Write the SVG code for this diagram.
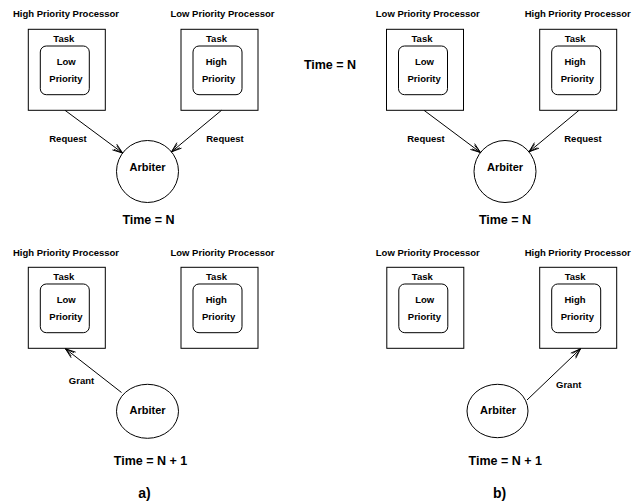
<svg xmlns="http://www.w3.org/2000/svg" width="637" height="504" viewBox="0 0 637 504">
<style>
text{font-family:"Liberation Sans",Arial,sans-serif;font-weight:bold;fill:#000}
.s{font-size:9.5px}
.m{font-size:11px}
.l{font-size:12.5px}
.xl{font-size:14px}
.c{text-anchor:middle}
.box{fill:#fff;stroke:#000;stroke-width:1}
.in{fill:#fff;stroke:#000;stroke-width:1}
.arb{fill:#fff;stroke:#000;stroke-width:1}
.e{stroke:#000;stroke-width:1;fill:none}
</style>
<defs>
<marker id="ah" markerUnits="userSpaceOnUse" markerWidth="14" markerHeight="10" viewBox="-12 -5 14 10" refX="0" refY="0" orient="auto">
<path d="M-10,-3.6 L0,0 L-10,3.6 M-9,-2.2 L0,0 L-9,2.2" fill="none" stroke="#000" stroke-width="0.9"/>
</marker>
</defs>

<!-- Panel a) top -->
<g id="a-top-hp">
<text class="s c" x="66" y="17">High Priority Processor</text>
<g transform="translate(28.3,29.3)">
<rect class="box" x="0" y="0" width="77" height="81"/>
<text class="s" x="25" y="12.3">Task</text>
<rect class="in" x="12" y="16.7" width="49" height="48.7" rx="6"/>
<text class="s" x="28.4" y="35.7">Low</text>
<text class="s" x="21" y="53">Priority</text>
</g>
</g>
<g id="a-top-lp">
<text class="s c" x="222.5" y="17">Low Priority Processor</text>
<g transform="translate(181,29.3)">
<rect class="box" x="0" y="0" width="77" height="81"/>
<text class="s" x="25" y="12.3">Task</text>
<rect class="in" x="12" y="16.7" width="49" height="48.7" rx="6"/>
<text class="s" x="24.7" y="35.7">High</text>
<text class="s" x="21" y="53">Priority</text>
</g>
</g>
<g id="a-top-arbiter">
<circle class="arb" cx="147.5" cy="171.5" r="31"/>
<text class="m c" x="147.5" y="171">Arbiter</text>
</g>
<text class="l c" x="148.5" y="224">Time = N</text>

<!-- Panel b) top -->
<text class="l c" x="330" y="69">Time = N</text>
<g id="b-top-lp">
<text class="s c" x="427.8" y="17">Low Priority Processor</text>
<g transform="translate(386.5,29.3)">
<rect class="box" x="0" y="0" width="77" height="81"/>
<text class="s" x="25" y="12.3">Task</text>
<rect class="in" x="12" y="16.7" width="49" height="48.7" rx="6"/>
<text class="s" x="28.4" y="35.7">Low</text>
<text class="s" x="21" y="53">Priority</text>
</g>
</g>
<g id="b-top-hp">
<text class="s c" x="577.7" y="17">High Priority Processor</text>
<g transform="translate(539.7,29.3)">
<rect class="box" x="0" y="0" width="77" height="81"/>
<text class="s" x="25" y="12.3">Task</text>
<rect class="in" x="12" y="16.7" width="49" height="48.7" rx="6"/>
<text class="s" x="24.7" y="35.7">High</text>
<text class="s" x="21" y="53">Priority</text>
</g>
</g>
<g id="b-top-arbiter">
<circle class="arb" cx="505" cy="171.5" r="31"/>
<text class="m c" x="505" y="171">Arbiter</text>
</g>
<text class="l c" x="505" y="224">Time = N</text>

<!-- Panel a) bottom -->
<g id="a-bot-hp">
<text class="s c" x="66" y="256">High Priority Processor</text>
<g transform="translate(28.3,267.3)">
<rect class="box" x="0" y="0" width="77" height="81"/>
<text class="s" x="25" y="12.3">Task</text>
<rect class="in" x="12" y="16.7" width="49" height="48.7" rx="6"/>
<text class="s" x="28.4" y="35.7">Low</text>
<text class="s" x="21" y="53">Priority</text>
</g>
</g>
<g id="a-bot-lp">
<text class="s c" x="222.5" y="256">Low Priority Processor</text>
<g transform="translate(181,267.3)">
<rect class="box" x="0" y="0" width="77" height="81"/>
<text class="s" x="25" y="12.3">Task</text>
<rect class="in" x="12" y="16.7" width="49" height="48.7" rx="6"/>
<text class="s" x="24.7" y="35.7">High</text>
<text class="s" x="21" y="53">Priority</text>
</g>
</g>
<g id="a-bot-arbiter">
<ellipse class="arb" cx="147.5" cy="411.3" rx="31" ry="27"/>
<text class="m c" x="147.5" y="413.5">Arbiter</text>
</g>
<text class="l c" x="150.5" y="465">Time = N + 1</text>
<text class="xl c" x="144.5" y="498">a)</text>

<!-- Panel b) bottom -->
<g id="b-bot-lp">
<text class="s c" x="427.8" y="256">Low Priority Processor</text>
<g transform="translate(386.8,267.3)">
<rect class="box" x="0" y="0" width="77" height="81"/>
<text class="s" x="25" y="12.3">Task</text>
<rect class="in" x="12" y="16.7" width="49" height="48.7" rx="6"/>
<text class="s" x="28.4" y="35.7">Low</text>
<text class="s" x="21" y="53">Priority</text>
</g>
</g>
<g id="b-bot-hp">
<text class="s c" x="577.7" y="256">High Priority Processor</text>
<g transform="translate(539.7,267.3)">
<rect class="box" x="0" y="0" width="77" height="81"/>
<text class="s" x="25" y="12.3">Task</text>
<rect class="in" x="12" y="16.7" width="49" height="48.7" rx="6"/>
<text class="s" x="24.7" y="35.7">High</text>
<text class="s" x="21" y="53">Priority</text>
</g>
</g>
<g id="b-bot-arbiter">
<ellipse class="arb" cx="497.5" cy="411" rx="30.5" ry="26.7"/>
<text class="m c" x="498" y="413.5">Arbiter</text>
</g>
<text class="l c" x="505.3" y="465">Time = N + 1</text>
<text class="xl c" x="499.5" y="498">b)</text>

<!-- Connectors -->
<g id="connectors">
<line class="e" x1="65" y1="110.3" x2="122.6" y2="153" marker-end="url(#ah)"/>
<line class="e" x1="221.5" y1="110.3" x2="171.5" y2="151.8" marker-end="url(#ah)"/>
<text class="s c" x="68" y="142">Request</text>
<text class="s c" x="225" y="142">Request</text>

<line class="e" x1="424" y1="110.3" x2="480.5" y2="152.5" marker-end="url(#ah)"/>
<line class="e" x1="579" y1="110.3" x2="529" y2="151.8" marker-end="url(#ah)"/>
<text class="s c" x="426" y="142">Request</text>
<text class="s c" x="583" y="142">Request</text>

<line class="e" x1="121.5" y1="392.5" x2="65.5" y2="348.8" marker-end="url(#ah)"/>
<text class="s c" x="81.5" y="384">Grant</text>

<line class="e" x1="527" y1="400" x2="580.5" y2="348.8" marker-end="url(#ah)"/>
<text class="s c" x="568.7" y="387.5">Grant</text>
</g>
</svg>
